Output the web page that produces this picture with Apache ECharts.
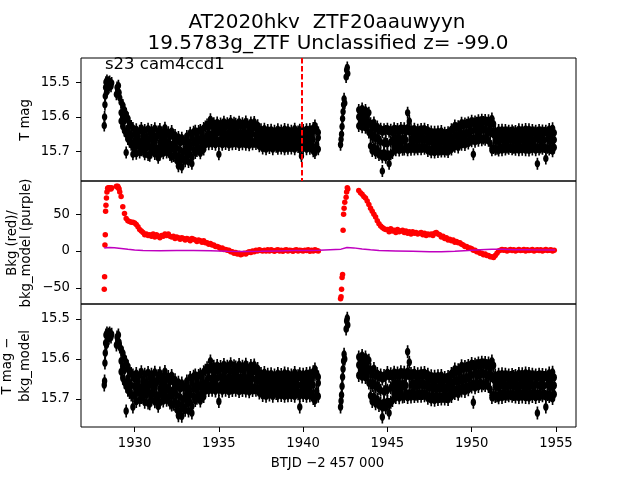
<!DOCTYPE html>
<html><head><meta charset="utf-8">
<script src="https://cdn.jsdelivr.net/npm/echarts@6/dist/echarts.min.js"></script>
<style>html,body{margin:0;padding:0;background:#fff}#c{width:640px;height:480px}</style>
</head><body><div id="c"></div>
<script>
// ---------- data ----------
const titleLine1 = 'AT2020hkv  ZTF20aauwyyn';
const titleLine2 = '19.5783g_ZTF Unclassified z= -99.0';
const sectorText = 's23 cam4ccd1';
const xTicks = [1930, 1935, 1940, 1945, 1950, 1955];
const magTicks = [15.5, 15.6, 15.7];
const bkgTicks = [-50, 0, 50];
const refEpoch = 1939.94;

// times (BTJD - 2457000)
const tStart = [1928.20,1928.22,1928.24,1928.26,1928.28,1928.30,1928.33,1928.36,1928.40,1928.44,
  1928.48,1928.52,1928.56,1928.60,1928.64,1928.92,1928.96,1929.00,1929.04,1929.08,1929.12];
const tOrbit1 = [1929.2,1929.3,1929.4,1929.5,1929.6,1929.7,1929.8,1929.9,
  1930.0,1930.1,1930.2,1930.3,1930.4,1930.5,1930.6,1930.7,1930.8,1930.9,
  1931.0,1931.1,1931.2,1931.3,1931.4,1931.5,1931.6,1931.7,1931.8,1931.9,
  1932.0,1932.1,1932.2,1932.3,1932.4,1932.5,1932.6,1932.7,1932.8,1932.9,
  1933.0,1933.1,1933.2,1933.3,1933.4,1933.5,1933.6,1933.7,1933.8,1933.9,
  1934.0,1934.1,1934.2,1934.3,1934.4,1934.5,1934.6,1934.7,1934.8,1934.9,
  1935.0,1935.1,1935.2,1935.3,1935.4,1935.5,1935.6,1935.7,1935.8,1935.9,
  1936.0,1936.1,1936.2,1936.3,1936.4,1936.5,1936.6,1936.7,1936.8,1936.9,
  1937.0,1937.1,1937.2,1937.3,1937.4,1937.5,1937.6,1937.7,1937.8,1937.9,
  1938.0,1938.1,1938.2,1938.3,1938.4,1938.5,1938.6,1938.7,1938.8,1938.9,
  1939.0,1939.1,1939.2,1939.3,1939.4,1939.5,1939.6,1939.7,1939.8,1939.9,
  1940.0,1940.1,1940.2,1940.3,1940.4,1940.5,1940.6,1940.7,1940.8,1940.9];
const tSpike = [1942.22,1942.25,1942.28,1942.31,1942.34,1942.37,1942.40,1942.43,1942.47,1942.55,1942.58,1942.62,1942.65];
const tOrbit2 = [1943.3,1943.4,1943.5,1943.6,1943.7,1943.8,1943.9,
  1944.0,1944.1,1944.2,1944.3,1944.4,1944.5,1944.6,1944.7,1944.8,1944.9,
  1945.0,1945.1,1945.2,1945.3,1945.4,1945.5,1945.6,1945.7,1945.8,1945.9,
  1946.0,1946.1,1946.2,1946.3,1946.4,1946.5,1946.6,1946.7,1946.8,1946.9,
  1947.0,1947.1,1947.2,1947.3,1947.4,1947.5,1947.6,1947.7,1947.8,1947.9,
  1948.0,1948.1,1948.2,1948.3,1948.4,1948.5,1948.6,1948.7,1948.8,1948.9,
  1949.0,1949.1,1949.2,1949.3,1949.4,1949.5,1949.6,1949.7,1949.8,1949.9,
  1950.0,1950.1,1950.2,1950.3,1950.4,1950.5,1950.6,1950.7,1950.8,1950.9,
  1951.0,1951.1,1951.2,1951.3,1951.4,1951.5,1951.6,1951.7,1951.8,1951.9,
  1952.0,1952.1,1952.2,1952.3,1952.4,1952.5,1952.6,1952.7,1952.8,1952.9,
  1953.0,1953.1,1953.2,1953.3,1953.4,1953.5,1953.6,1953.7,1953.8,1953.9,
  1954.0,1954.1,1954.2,1954.3,1954.4,1954.5,1954.6,1954.7,1954.8,1954.9];

// ---- panel 1: T mag (several exposures per time step: mid, bright-side, faint-side) ----
const magStart = [15.625,15.600,15.565,15.540,15.515,15.500,15.530,15.495,15.510,15.500,
  15.515,15.498,15.505,15.512,15.502,15.535,15.515,15.525,15.510,15.530,15.545];
const magOrbit1Mid = [15.588,15.600,15.612,15.703,15.632,15.648,15.655,15.708,
  15.668,15.676,15.662,15.680,15.671,15.659,15.684,15.666,15.674,15.712,
  15.664,15.678,15.670,15.660,15.718,15.674,15.667,15.681,15.663,15.676,
  15.672,15.680,15.715,15.676,15.684,15.690,15.742,15.695,15.745,15.700,
  15.694,15.688,15.698,15.686,15.735,15.675,15.668,15.680,15.670,15.665,
  15.668,15.660,15.664,15.652,15.646,15.607,15.650,15.644,15.655,15.648,
  15.708,15.645,15.652,15.640,15.650,15.655,15.643,15.649,15.653,15.641,
  15.650,15.644,15.652,15.646,15.655,15.642,15.648,15.653,15.645,15.650,
  15.648,15.615,15.652,15.655,15.650,15.662,15.667,15.660,15.668,15.663,
  15.666,15.660,15.668,15.662,15.670,15.664,15.658,15.667,15.661,15.669,
  15.662,15.668,15.660,15.666,15.663,15.670,15.659,15.665,15.668,15.713,
  15.664,15.660,15.667,15.662,15.669,15.658,15.665,15.640,15.680,15.660];
const magOrbit1Hi = [15.558,15.566,15.580,15.592,15.604,15.618,15.626,15.632,
  15.650,15.636,15.655,15.640,15.632,15.652,15.638,15.657,15.634,15.646,
  15.638,15.652,15.633,15.656,15.642,15.635,15.654,15.644,15.631,15.650,
  15.644,15.656,15.641,15.658,15.652,15.670,15.658,15.675,15.660,15.672,
  15.668,15.655,15.672,15.646,15.660,15.643,15.640,15.654,15.641,15.638,
  15.644,15.632,15.628,15.622,15.628,15.620,15.627,15.618,15.630,15.616,
  15.628,15.619,15.625,15.614,15.629,15.618,15.624,15.612,15.630,15.617,
  15.620,15.628,15.614,15.626,15.618,15.631,15.613,15.622,15.629,15.616,
  15.631,15.620,15.633,15.624,15.638,15.636,15.650,15.634,15.651,15.638,
  15.648,15.637,15.652,15.640,15.650,15.636,15.653,15.639,15.649,15.635,
  15.651,15.637,15.653,15.640,15.650,15.634,15.648,15.642,15.637,15.650,
  15.638,15.651,15.636,15.649,15.635,15.650,15.632,15.625,15.636,15.645];
const magOrbit1Lo = [15.612,15.628,15.640,15.650,15.664,15.672,15.680,15.684,
  15.690,15.706,15.684,15.703,15.696,15.688,15.708,15.690,15.710,15.686,
  15.702,15.686,15.707,15.690,15.697,15.709,15.688,15.705,15.690,15.703,
  15.695,15.710,15.692,15.713,15.706,15.726,15.712,15.730,15.716,15.722,
  15.728,15.712,15.730,15.709,15.718,15.694,15.704,15.698,15.690,15.705,
  15.686,15.694,15.680,15.668,15.679,15.665,15.678,15.664,15.680,15.667,
  15.677,15.665,15.680,15.664,15.678,15.666,15.681,15.664,15.679,15.666,
  15.678,15.665,15.681,15.667,15.679,15.664,15.680,15.667,15.682,15.665,
  15.679,15.672,15.678,15.673,15.685,15.679,15.691,15.678,15.693,15.680,
  15.690,15.677,15.693,15.679,15.686,15.692,15.678,15.691,15.677,15.693,
  15.679,15.692,15.677,15.691,15.678,15.693,15.680,15.687,15.692,15.679,
  15.691,15.678,15.693,15.679,15.692,15.685,15.699,15.704,15.688,15.693];
const magSpike = [15.680,15.665,15.650,15.628,15.605,15.585,15.565,15.548,15.560,15.485,15.465,15.458,15.475];
const magOrbit2Mid = [15.600,15.606,15.598,15.610,15.603,15.612,15.615,
  15.650,15.658,15.652,15.662,15.660,15.668,15.672,15.756,15.676,15.670,
  15.678,15.735,15.672,15.668,15.662,15.667,15.660,15.666,15.663,15.669,
  15.662,15.666,15.588,15.612,15.665,15.660,15.668,15.663,15.667,15.661,
  15.665,15.660,15.667,15.663,15.668,15.672,15.670,15.675,15.668,15.674,
  15.670,15.675,15.668,15.673,15.671,15.676,15.669,15.672,15.666,15.660,
  15.656,15.652,15.658,15.650,15.654,15.648,15.651,15.645,15.649,15.643,
  15.640,15.708,15.636,15.642,15.635,15.640,15.633,15.638,15.636,15.641,
  15.640,15.645,15.605,15.620,15.668,15.665,15.670,15.666,15.664,15.668,
  15.665,15.668,15.662,15.667,15.664,15.670,15.661,15.666,15.669,15.663,
  15.667,15.662,15.669,15.664,15.668,15.661,15.666,15.670,15.663,15.735,
  15.665,15.669,15.662,15.667,15.720,15.664,15.668,15.663,15.670,15.666];
const magOrbit2Hi = [15.580,15.588,15.576,15.590,15.580,15.592,15.588,
  15.618,15.632,15.616,15.634,15.628,15.640,15.634,15.644,15.636,15.641,
  15.634,15.643,15.637,15.645,15.633,15.641,15.635,15.642,15.632,15.640,
  15.633,15.644,15.631,15.643,15.636,15.642,15.634,15.645,15.637,15.643,
  15.635,15.642,15.634,15.644,15.638,15.653,15.642,15.654,15.643,15.652,
  15.642,15.654,15.641,15.653,15.646,15.652,15.644,15.650,15.636,15.638,
  15.625,15.633,15.627,15.631,15.617,15.625,15.619,15.623,15.616,15.622,
  15.611,15.619,15.613,15.617,15.610,15.616,15.608,15.615,15.609,15.617,
  15.610,15.624,15.641,15.652,15.640,15.651,15.638,15.649,15.637,15.651,
  15.638,15.645,15.640,15.646,15.639,15.644,15.641,15.647,15.636,15.649,
  15.637,15.650,15.635,15.648,15.636,15.650,15.638,15.645,15.640,15.646,
  15.638,15.645,15.639,15.646,15.640,15.647,15.635,15.648,15.633,15.646];
const magOrbit2Lo = [15.626,15.620,15.630,15.622,15.631,15.628,15.645,
  15.684,15.698,15.686,15.704,15.692,15.710,15.705,15.716,15.703,15.718,
  15.706,15.714,15.708,15.704,15.686,15.696,15.684,15.697,15.685,15.695,
  15.694,15.684,15.696,15.685,15.695,15.683,15.694,15.688,15.693,15.686,
  15.693,15.686,15.692,15.687,15.698,15.693,15.702,15.692,15.703,15.691,
  15.701,15.694,15.700,15.693,15.700,15.694,15.701,15.690,15.694,15.682,
  15.686,15.676,15.688,15.674,15.680,15.670,15.681,15.668,15.677,15.666,
  15.670,15.661,15.672,15.659,15.669,15.658,15.667,15.662,15.666,15.660,
  15.669,15.676,15.696,15.690,15.694,15.692,15.697,15.686,15.696,15.685,
  15.694,15.688,15.692,15.687,15.693,15.689,15.695,15.684,15.696,15.686,
  15.695,15.684,15.696,15.686,15.697,15.685,15.694,15.684,15.696,15.686,
  15.694,15.688,15.692,15.687,15.693,15.689,15.694,15.690,15.699,15.688];

// ---- panel 2: background flux (red) and background model (purple) ----
const bkgStart = [-52,-35,8,22,54,62,72,80,85,86,84,86,85,84,86,88,87,88,86,84,80];
const bkgOrbit1 = [74,60,51,44,41,40,39,39,
  38,36,33,29,27,25,22,23,21,22,
  20,23,19,22,20,18,21,20,23,21,
  23,20,19,20,17,19,18,16,18,17,
  15,17,16,14,17,16,15,13,15,14,
  12,14,11,11,9,10,8,8,6,6,
  5,3,4,2,2,1,1,-1,-1,-3,
  -2,-4,-3,-5,-4,-3,-4,-2,-1,-2,
  0,-1,1,0,1.5,0.5,0,1,0,1.5,
  0,1.5,0.5,-0.5,1,1.5,0,1,-0.5,1,
  1.5,0,1,0.5,-0.5,1,1.5,0,1,0.5,
  0,1,0.5,1.5,-0.5,1,0,1.5,0.5,0];
const bkgSpike = [-65,-62,-52,-36,-32,28,50,58,66,73,80,86,84];
const bkgOrbit2 = [82,79,77,74,72,68,63,
  58,54,50,46,41,37,34,32,30,29,
  29,26,30,27,28,25,29,26,27,28,
  25,27,24,26,23,26,24,25,23,24,
  25,22,24,21,23,22,23,21,24,25,
  23,22,19,20,17,18,15,16,14,15,
  12,13,11,11,9,8,6,6,4,4,
  3,1,1,-1,-1,-3,-3,-5,-4,-6,
  -6,-8,-8,-9,-6,-3,0,1,2,1,
  1.5,0,1,2,0.5,1.5,0,1,2,0.5,
  1,2,0,1.5,0.5,1,2,0,1,1.5,
  0.5,1.5,0,1,2,0.5,1,1.5,0,1];
const modelT = [1928.2,1928.5,1928.8,1929.2,1929.6,1930.0,1930.5,1931.5,1932.5,1933.5,1934.5,1935.5,
  1936.5,1937.5,1938.5,1939.5,1940.5,1940.95,1942.25,1942.6,1943.0,1943.5,1944.0,1944.5,
  1945.5,1946.5,1947.5,1948.2,1949.0,1949.8,1950.5,1951.2,1951.8,1952.5,1953.5,1954.95];
const bkgModel = [4.0,4.8,4.5,3.5,2.2,1.2,0.6,0.4,0.5,0.6,0.3,-0.4,
  -0.8,-0.5,0.1,0.5,0.8,0.9,2.5,4.8,4.2,2.8,1.5,0.6,
  0.1,-0.4,-0.9,-1.0,-0.3,0.7,1.7,2.3,2.2,1.8,1.5,1.3];

// ---- panel 3: T mag - bkg_model ----
const corrStart = [15.665,15.655,15.610,15.585,15.560,15.540,15.565,15.535,15.545,15.538,
  15.548,15.535,15.540,15.545,15.538,15.565,15.545,15.555,15.540,15.558,15.570];
const corrOrbit1Mid = [15.605,15.618,15.628,15.730,15.648,15.660,15.666,15.720,
  15.668,15.676,15.662,15.680,15.671,15.659,15.684,15.666,15.674,15.712,
  15.664,15.678,15.670,15.660,15.718,15.674,15.667,15.681,15.663,15.676,
  15.672,15.680,15.715,15.676,15.684,15.690,15.742,15.695,15.743,15.700,
  15.694,15.688,15.698,15.686,15.735,15.675,15.668,15.680,15.670,15.665,
  15.668,15.660,15.664,15.652,15.646,15.605,15.650,15.644,15.655,15.648,
  15.706,15.645,15.652,15.640,15.650,15.655,15.643,15.649,15.653,15.641,
  15.650,15.644,15.652,15.646,15.655,15.642,15.648,15.653,15.645,15.650,
  15.648,15.615,15.652,15.655,15.650,15.662,15.667,15.660,15.668,15.663,
  15.666,15.660,15.668,15.662,15.670,15.664,15.658,15.667,15.661,15.669,
  15.662,15.668,15.660,15.666,15.663,15.670,15.659,15.665,15.720,15.666,
  15.664,15.660,15.667,15.662,15.669,15.658,15.665,15.640,15.680,15.660];
const corrOrbit1Hi = [15.575,15.585,15.598,15.608,15.618,15.630,15.636,15.640,
  15.650,15.636,15.655,15.640,15.632,15.652,15.638,15.657,15.634,15.646,
  15.638,15.652,15.633,15.656,15.642,15.635,15.654,15.644,15.631,15.650,
  15.644,15.656,15.641,15.658,15.652,15.670,15.658,15.675,15.660,15.672,
  15.668,15.655,15.672,15.646,15.660,15.643,15.640,15.654,15.641,15.638,
  15.644,15.632,15.628,15.622,15.628,15.620,15.627,15.618,15.630,15.616,
  15.628,15.619,15.625,15.614,15.629,15.618,15.624,15.612,15.630,15.617,
  15.620,15.628,15.614,15.626,15.618,15.631,15.613,15.622,15.629,15.616,
  15.631,15.620,15.633,15.624,15.638,15.636,15.650,15.634,15.651,15.638,
  15.648,15.637,15.652,15.640,15.650,15.636,15.653,15.639,15.649,15.635,
  15.651,15.637,15.653,15.640,15.650,15.634,15.648,15.642,15.637,15.650,
  15.638,15.651,15.636,15.649,15.635,15.650,15.632,15.625,15.636,15.645];
const corrOrbit1Lo = [15.632,15.648,15.658,15.668,15.678,15.684,15.690,15.692,
  15.690,15.706,15.684,15.703,15.696,15.688,15.708,15.690,15.710,15.686,
  15.702,15.686,15.707,15.690,15.697,15.709,15.688,15.705,15.690,15.703,
  15.695,15.710,15.692,15.713,15.706,15.726,15.712,15.730,15.716,15.722,
  15.728,15.712,15.730,15.709,15.718,15.694,15.704,15.698,15.690,15.705,
  15.686,15.694,15.680,15.668,15.679,15.665,15.678,15.664,15.680,15.667,
  15.677,15.665,15.680,15.664,15.678,15.666,15.681,15.664,15.679,15.666,
  15.678,15.665,15.681,15.667,15.679,15.664,15.680,15.667,15.682,15.665,
  15.679,15.672,15.678,15.673,15.685,15.679,15.691,15.678,15.693,15.680,
  15.690,15.677,15.693,15.679,15.686,15.692,15.678,15.691,15.677,15.693,
  15.679,15.692,15.677,15.691,15.678,15.693,15.680,15.687,15.692,15.679,
  15.691,15.678,15.693,15.679,15.692,15.685,15.699,15.704,15.688,15.693];
const corrSpike = [15.720,15.705,15.690,15.668,15.645,15.625,15.605,15.588,15.600,15.525,15.505,15.498,15.515];
const corrOrbit2Mid = [15.615,15.621,15.613,15.625,15.618,15.627,15.630,
  15.660,15.666,15.660,15.670,15.667,15.674,15.678,15.745,15.682,15.675,
  15.678,15.735,15.672,15.668,15.662,15.667,15.660,15.666,15.663,15.669,
  15.662,15.666,15.582,15.608,15.665,15.660,15.668,15.663,15.667,15.661,
  15.665,15.660,15.667,15.663,15.668,15.672,15.670,15.675,15.668,15.674,
  15.670,15.675,15.668,15.673,15.671,15.676,15.669,15.672,15.666,15.660,
  15.656,15.652,15.658,15.650,15.654,15.648,15.651,15.645,15.649,15.643,
  15.640,15.708,15.636,15.642,15.635,15.640,15.633,15.638,15.636,15.641,
  15.640,15.645,15.605,15.616,15.668,15.665,15.670,15.666,15.664,15.668,
  15.665,15.668,15.662,15.667,15.664,15.670,15.661,15.666,15.669,15.663,
  15.667,15.662,15.669,15.664,15.668,15.661,15.666,15.670,15.663,15.735,
  15.665,15.669,15.662,15.667,15.720,15.664,15.668,15.663,15.670,15.666];
const corrOrbit2Hi = [15.595,15.603,15.591,15.605,15.595,15.607,15.603,
  15.626,15.640,15.624,15.642,15.636,15.646,15.640,15.650,15.641,15.645,
  15.634,15.643,15.637,15.645,15.633,15.641,15.635,15.642,15.632,15.640,
  15.633,15.644,15.631,15.643,15.636,15.642,15.634,15.645,15.637,15.643,
  15.635,15.642,15.634,15.644,15.638,15.653,15.642,15.654,15.643,15.652,
  15.642,15.654,15.641,15.653,15.646,15.652,15.644,15.650,15.636,15.638,
  15.625,15.633,15.627,15.631,15.617,15.625,15.619,15.623,15.616,15.622,
  15.611,15.619,15.613,15.617,15.610,15.616,15.608,15.615,15.609,15.617,
  15.610,15.624,15.641,15.652,15.640,15.651,15.638,15.649,15.637,15.651,
  15.638,15.645,15.640,15.646,15.639,15.644,15.641,15.647,15.636,15.649,
  15.637,15.650,15.635,15.648,15.636,15.650,15.638,15.645,15.640,15.646,
  15.638,15.645,15.639,15.646,15.640,15.647,15.635,15.648,15.633,15.646];
const corrOrbit2Lo = [15.641,15.635,15.645,15.637,15.646,15.643,15.660,
  15.692,15.706,15.694,15.712,15.700,15.716,15.711,15.722,15.708,15.722,
  15.706,15.714,15.708,15.704,15.686,15.696,15.684,15.697,15.685,15.695,
  15.694,15.684,15.696,15.685,15.695,15.683,15.694,15.688,15.693,15.686,
  15.693,15.686,15.692,15.687,15.698,15.693,15.702,15.692,15.703,15.691,
  15.701,15.694,15.700,15.693,15.700,15.694,15.701,15.690,15.694,15.682,
  15.686,15.676,15.688,15.674,15.680,15.670,15.681,15.668,15.677,15.666,
  15.670,15.661,15.672,15.659,15.669,15.658,15.667,15.662,15.666,15.660,
  15.669,15.676,15.696,15.690,15.694,15.692,15.697,15.686,15.696,15.685,
  15.694,15.688,15.692,15.687,15.693,15.689,15.695,15.684,15.696,15.686,
  15.695,15.684,15.696,15.686,15.697,15.685,15.694,15.684,15.696,15.686,
  15.694,15.688,15.692,15.687,15.693,15.689,15.694,15.690,15.699,15.688];

// ---------- chart ----------
const FONT = 'DejaVu Sans';
function pairs(xs, ys) { const n = Math.min(xs.length, ys.length); const o = []; for (let i = 0; i < n; i++) o.push([xs[i], ys[i]]); return o; }
function join(parts) { return [].concat(...parts.map(p => pairs(p[0], p[1]))); }
const magData = join([[tStart, magStart], [tOrbit1, magOrbit1Hi], [tOrbit1, magOrbit1Lo], [tOrbit1, magOrbit1Mid],
  [tSpike, magSpike], [tOrbit2, magOrbit2Hi], [tOrbit2, magOrbit2Lo], [tOrbit2, magOrbit2Mid]]);
const bkgData = join([[tStart, bkgStart], [tOrbit1, bkgOrbit1], [tSpike, bkgSpike], [tOrbit2, bkgOrbit2]]);
const corrData = join([[tStart, corrStart], [tOrbit1, corrOrbit1Hi], [tOrbit1, corrOrbit1Lo], [tOrbit1, corrOrbit1Mid],
  [tSpike, corrSpike], [tOrbit2, corrOrbit2Hi], [tOrbit2, corrOrbit2Lo], [tOrbit2, corrOrbit2Mid]]);
const modelData = pairs(modelT, bkgModel);

// filled (slightly tall) dot with a vertical error bar, as one closed outline
const errSym = 'path://M3.5,0L6.5,0L6.5,4.85L7.5,5.5L9.33,8.25L10,12L9.33,15.75L7.5,18.5L6.5,19.15L6.5,24L3.5,24L3.5,19.15L2.5,18.5L0.67,15.75L0,12L0.67,8.25L2.5,5.5L3.5,4.85Z';
const minus = v => (v < 0 ? '\u2212' + (-v) : String(v));
const gridTops = [58, 181, 304];
const grids = gridTops.map(t => ({ left: 81, width: 495, top: t, height: 123, show: true, borderColor: '#000', borderWidth: 1,
  backgroundColor: 'transparent', containLabel: false, outerBoundsMode: 'none' }));
const tickStyle = { show: true, inside: false, length: 5, lineStyle: { color: '#000', width: 1 } };
const labelStyle = { color: '#000', fontFamily: FONT, fontSize: 13.2 };
const xAxes = [0, 1, 2].map(i => ({
  type: 'value', gridIndex: i, min: 1926.82, max: 1956.19, splitLine: { show: false }, axisLine: { show: false },
  axisTick: i === 2 ? Object.assign({ customValues: xTicks }, tickStyle) : { show: false },
  axisLabel: i === 2 ? Object.assign({ show: true, customValues: xTicks, margin: 10, formatter: v => String(v) }, labelStyle) : { show: false }
}));
function yAx(i, min, max, ticks, fmt, inverse) {
  return { type: 'value', gridIndex: i, min: min, max: max, inverse: inverse, splitLine: { show: false }, axisLine: { show: false },
    axisTick: Object.assign({ customValues: ticks }, tickStyle),
    axisLabel: Object.assign({ show: true, customValues: ticks, margin: 11, formatter: fmt }, labelStyle) };
}
const yAxes = [
  yAx(0, 15.4303, 15.7848, magTicks, v => v.toFixed(1), true),
  yAx(1, -72, 95, bkgTicks, minus, false),
  yAx(2, 15.4625, 15.77, magTicks, v => v.toFixed(1), true)
];
function txt(text, x, y, size, opts) {
  return Object.assign({ type: 'text', x: x, y: y, silent: true,
    style: Object.assign({ text: text, fontFamily: FONT, fontSize: size, fill: '#000', align: 'center', verticalAlign: 'middle' }, (opts && opts.style) || {}) },
    (opts && opts.el) || {});
}
const blackPts = { symbol: errSym, silent: true, large: false, itemStyle: { color: '#000', opacity: 1, borderWidth: 0 } };
const option = {
  animation: false,
  backgroundColor: '#fff',
  grid: grids,
  xAxis: xAxes,
  yAxis: yAxes,
  series: [
    Object.assign({ type: 'scatter', xAxisIndex: 0, yAxisIndex: 0, data: magData, symbolSize: [5.5, 12],
      markLine: { silent: true, symbol: ['none', 'none'], label: { show: false }, z: 10,
        lineStyle: { color: '#ff0000', width: 2, type: [5.5, 2.5] }, data: [{ xAxis: refEpoch }] } }, blackPts),
    { type: 'scatter', xAxisIndex: 1, yAxisIndex: 1, data: bkgData, symbol: 'circle', symbolSize: 5.5, silent: true,
      itemStyle: { color: '#ff0000', opacity: 1 } },
    { type: 'line', xAxisIndex: 1, yAxisIndex: 1, data: modelData, showSymbol: false, silent: true, z: 5,
      lineStyle: { color: '#bf00bf', width: 1.5 } },
    Object.assign({ type: 'scatter', xAxisIndex: 2, yAxisIndex: 2, data: corrData, symbolSize: [5.5, 13] }, blackPts)
  ],
  graphic: [
    txt(titleLine1, 327, 22.4, 20),
    txt(titleLine2, 328, 44.1, 20),
    txt(sectorText, 105, 65, 16.5, { style: { align: 'left' } }),
    txt('T mag', 25.7, 120, 13.2, { el: { rotation: Math.PI / 2 } }),
    txt('Bkg (red)/\nbkg_model (purple)', 19.8, 243, 13.2, { el: { rotation: Math.PI / 2 }, style: { lineHeight: 14.5 } }),
    txt('T mag \u2212\nbkg_model', 17, 366, 13.2, { el: { rotation: Math.PI / 2 }, style: { lineHeight: 18 } }),
    txt('BTJD \u22122 457 000', 327.5, 463.5, 13.2)
  ]
};
const chart = echarts.init(document.getElementById('c'), null, { renderer: 'canvas', width: 640, height: 480 });
chart.setOption(option);
</script></body></html>
